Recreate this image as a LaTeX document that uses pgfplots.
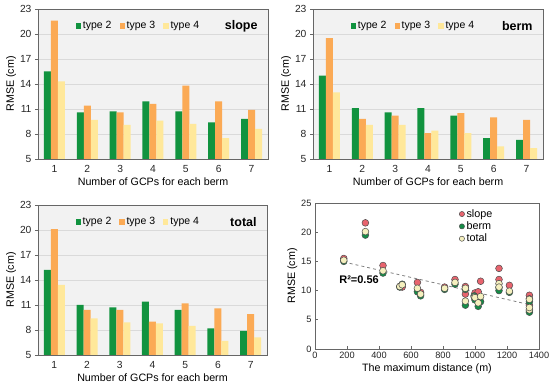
\documentclass[border=0pt]{standalone}
\usepackage{pgfplots}
\pgfplotsset{compat=1.18}
\usepackage{fontspec}
\setmainfont{Liberation Sans}
\definecolor{cg}{RGB}{17,147,63}
\definecolor{co}{RGB}{251,170,85}
\definecolor{cy}{RGB}{255,232,154}
\definecolor{bgc}{RGB}{242,242,242}
\definecolor{gridc}{RGB}{218,218,218}
\definecolor{sred}{RGB}{232,100,110}
\definecolor{sgreen}{RGB}{20,140,70}
\definecolor{syel}{RGB}{245,240,190}
\pgfplotsset{
  common/.style={
    scale only axis,
    /pgf/number format/assume math mode=true,
    /pgf/number format/1000 sep={},
    ticklabel style={font=\fontsize{10.3}{11}\selectfont, text=black!85},
    label style={font=\fontsize{10.7}{12}\selectfont},
    axis line style={draw=black!60, line width=0.8pt},
    tick style={draw=black!60, line width=0.6pt},
    major tick length=3pt,
    xtick pos=bottom, ytick pos=left,
  },
  barax/.style={
    common, width=230pt, height=150pt, tick align=outside,
    ybar=0pt, bar width=7pt,
    xmin=0.5, xmax=7.5, ymin=5, ymax=23,
    xtick={1,...,7}, ytick={5,8,...,23},
    xtick style={/pgfplots/major tick length=0pt},
    axis background/.style={fill=bgc},
    ymajorgrids, grid style={draw=gridc, line width=0.6pt},
    xlabel={Number of GCPs for each berm}, ylabel={RMSE (cm)},
    xlabel style={yshift=2pt}, ylabel style={yshift=-3pt},
    legend columns=3,
    legend style={at={(0.15,0.887)}, anchor=west, draw=none, fill=none,
      font=\fontsize{10.5}{12}\selectfont,
      /tikz/every even column/.append style={column sep=6pt}},
    legend image code/.code={\fill[##1] (0pt,-2.6pt) rectangle (5.2pt,2.6pt);},
    every axis plot/.append style={draw=none},
  },
  scat/.style={only marks, mark=*, mark size=3.4pt,
    mark options={draw=black!70, line width=0.5pt, fill=#1}},
}
\begin{document}
\begin{tikzpicture}
\useasboundingbox (0,0) rectangle (550pt,386pt);
% ---------- slope
\begin{axis}[barax, at={(38pt,227pt)}, anchor=south west]
\addplot[fill=cg] coordinates {(1,15.5) (2,10.6) (3,10.7) (4,11.9) (5,10.7) (6,9.4) (7,9.8)};
\addplot[fill=co] coordinates {(1,21.6) (2,11.4) (3,10.6) (4,11.6) (5,13.8) (6,11.9) (7,10.9)};
\addplot[fill=cy] coordinates {(1,14.3) (2,9.7) (3,9.1) (4,9.6) (5,9.2) (6,7.5) (7,8.6)};
\legend{type 2, type 3, type 4}
\node[anchor=east, font=\fontsize{12.5}{14}\selectfont\bfseries] at (rel axis cs:0.97,0.887) {slope};
\end{axis}
% ---------- berm
\begin{axis}[barax, at={(313pt,227pt)}, anchor=south west]
\addplot[fill=cg] coordinates {(1,15.0) (2,11.1) (3,10.6) (4,11.1) (5,10.2) (6,7.5) (7,7.3)};
\addplot[fill=co] coordinates {(1,19.5) (2,9.8) (3,10.2) (4,8.1) (5,10.5) (6,10.0) (7,9.7)};
\addplot[fill=cy] coordinates {(1,13.0) (2,9.1) (3,9.1) (4,8.4) (5,8.1) (6,6.5) (7,6.3)};
\legend{type 2, type 3, type 4}
\node[anchor=east, font=\fontsize{12.5}{14}\selectfont\bfseries] at (rel axis cs:0.97,0.887) {berm};
\end{axis}
% ---------- total
\begin{axis}[barax, width=229pt, at={(38pt,31pt)}, anchor=south west]
\addplot[fill=cg] coordinates {(1,15.2) (2,11.0) (3,10.7) (4,11.4) (5,10.4) (6,8.2) (7,7.9)};
\addplot[fill=co] coordinates {(1,20.1) (2,10.4) (3,10.4) (4,9.0) (5,11.2) (6,10.6) (7,9.9)};
\addplot[fill=cy] coordinates {(1,13.4) (2,9.4) (3,8.9) (4,8.8) (5,8.5) (6,6.7) (7,7.1)};
\legend{type 2, type 3, type 4}
\node[anchor=east, font=\fontsize{12.5}{14}\selectfont\bfseries] at (rel axis cs:0.97,0.887) {total};
\end{axis}
% ---------- scatter
\begin{axis}[common, width=224pt, height=146pt, at={(315pt,37pt)}, anchor=south west,
  tick align=inside,
  ticklabel style={font=\fontsize{9.2}{10}\selectfont, text=black!85},
  xmin=0, xmax=1400, ymin=0, ymax=25,
  xtick={0,200,...,1400}, ytick={0,5,...,25},
  xlabel={The maximum distance (m)}, ylabel={RMSE (cm)},
  xlabel style={yshift=2pt}, ylabel style={yshift=-3pt},
  legend style={at={(0.63,0.985)}, anchor=north west, draw=none, fill=none,
    font=\fontsize{10.8}{12}\selectfont, row sep=-1pt},
  legend cell align=left,
  legend image post style={mark size=2.6pt},
]
\addplot[scat=sred] coordinates {
(180,15.5) (315,21.6) (425,14.3) (530,10.7) (545,10.6) (640,11.4) (660,9.7)
(810,10.6) (875,11.9) (940,10.7) (940,9.4) (995,9.1) (1000,9.6) (1020,9.8)
(1035,11.6) (1150,13.8) (1150,11.9) (1215,10.9) (1340,9.2) (1340,7.5) (1340,8.6)};
\addplot[scat=sgreen] coordinates {
(180,15.0) (315,19.5) (425,13.0) (530,10.6) (545,11.1) (640,9.8) (660,9.1)
(810,10.2) (875,11.1) (940,10.2) (940,7.5) (995,9.1) (1000,8.4) (1020,7.3)
(1035,8.1) (1150,10.5) (1150,10.0) (1215,9.7) (1340,8.1) (1340,6.5) (1340,6.3)};
\addplot[scat=syel] coordinates {
(180,15.2) (315,20.1) (425,13.4) (530,10.7) (545,11.0) (640,10.4) (660,9.4)
(810,10.4) (875,11.4) (940,10.4) (940,8.2) (995,8.9) (1000,8.8) (1020,7.9)
(1035,9.0) (1150,11.2) (1150,10.6) (1215,9.9) (1340,8.5) (1340,6.7) (1340,7.1)};
\addplot[mark=none, draw=black!50, dashed, line width=0.8pt, forget plot] coordinates {(180,14.9) (1340,7.6)};
\legend{slope, berm, total}
\node[anchor=west, font=\fontsize{11}{12}\selectfont\bfseries] at (axis cs:130,11.8) {R²=0.56};
\end{axis}
\end{tikzpicture}
\end{document}
